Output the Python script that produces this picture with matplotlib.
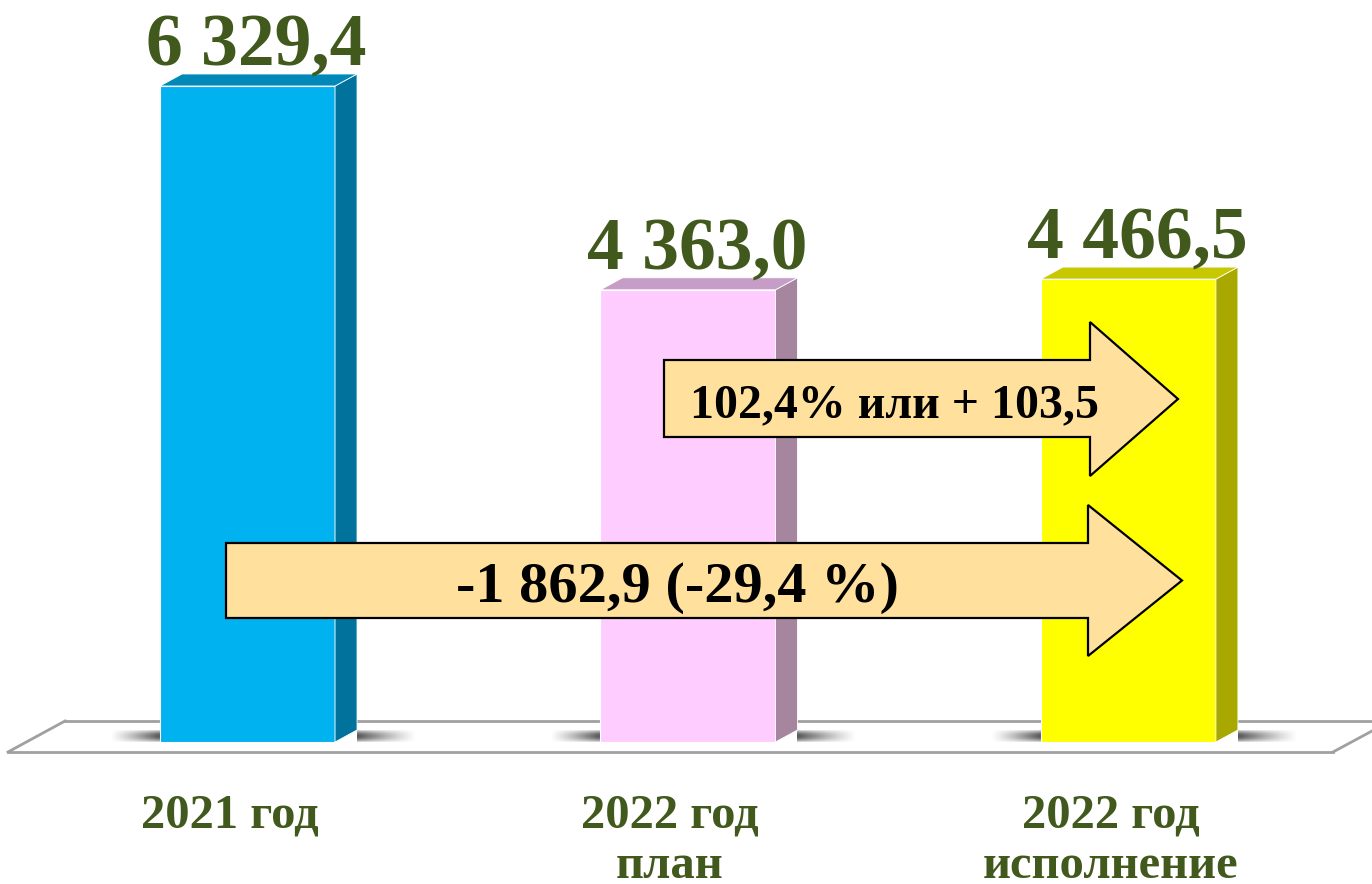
import numpy as np
import matplotlib.pyplot as plt
import matplotlib.transforms as mtransforms
from matplotlib.patches import Polygon

plt.rcParams['font.family'] = ['Liberation Serif', 'DejaVu Serif']

categories = ['2021 год', '2022 год\nплан', '2022 год\nисполнение']
values = [6329.4, 4363.0, 4466.5]
value_labels = ['6 329,4', '4 363,0', '4 466,5']
front_colors = ['#00B2F0', '#FFCCFF', '#FFFF00']
side_colors = ['#00729C', '#A6869F', '#A8A800']
top_colors = ['#0088B8', '#C69DC6', '#C8C800']
arrow_texts = ['102,4% или + 103,5', '-1 862,9 (-29,4 %)']

W, H = 1372, 884
fig = plt.figure(figsize=(W / 100, H / 100), dpi=100)
ax = fig.add_axes([0, 0, 1, 1])
ax.axis('off')
xlim = (-0.562, 2.553)
ylim = (-1370, 7159)

# pixel coords, origin top-left
pix = mtransforms.Affine2D().scale(0.01, -0.01).translate(0, H / 100) + fig.dpi_scale_trans

ux = (xlim[1] - xlim[0]) / W   # data units per pixel
uy = (ylim[1] - ylim[0]) / H
dx, dy = 22 * ux, 12 * uy
w = 175 * ux
pos = np.arange(len(values))
text_green = '#41591C'

# floor
floor_c = '#A0A0A0'
ax.plot([65, 1372], [721, 721], color=floor_c, lw=2, transform=pix, zorder=1)
ax.plot([8, 1333], [752, 752], color=floor_c, lw=2, transform=pix, zorder=1)
ax.plot([8, 65], [752, 721], color=floor_c, lw=2, transform=pix, zorder=1)
ax.plot([1333, 1372], [752, 731], color=floor_c, lw=2, transform=pix, zorder=1)

# soft shadows at the base of the bars
def shade(x0, x1, fade_left):
    ramp = np.linspace(0, 1, 60)
    if not fade_left:
        ramp = ramp[::-1]
    vert = np.sin(np.linspace(0.3, np.pi - 0.3, 12))[:, None]
    img = np.zeros((12, 60, 4))
    img[..., :3] = 0.3
    img[..., 3] = 0.95 * vert * ramp[None, :] ** 1.2
    ax.imshow(img, extent=(x0, x1, 0, dy), aspect='auto', zorder=2,
              interpolation='bilinear')

for p in pos:
    shade(p - w / 2 - 50 * ux, p - w / 2, True)
    shade(p + w / 2 + dx, p + w / 2 + dx + 60 * ux, False)

# bars
ax.bar(pos, values, width=w, color=front_colors, zorder=3,
       edgecolor='white', linewidth=0.8)
for p, v, sc, tc in zip(pos, values, side_colors, top_colors):
    r = p + w / 2
    l = p - w / 2
    ax.add_patch(Polygon([(r, 0), (r + dx, dy), (r + dx, v + dy), (r, v)],
                         closed=True, fc=sc, ec='white', lw=0.6, zorder=3))
    ax.add_patch(Polygon([(l, v), (l + dx, v + dy), (r + dx, v + dy), (r, v)],
                         closed=True, fc=tc, ec='white', lw=0.6, zorder=3))

# value labels
for p, v, t in zip(pos, values, value_labels):
    ax.annotate(t, xy=(p, v), xytext=(9, 21), textcoords='offset pixels',
                ha='center', va='baseline', fontsize=53, fontweight='bold',
                color=text_green, zorder=6)

# category labels
for p, c in zip(pos, categories):
    for i, line in enumerate(c.split('\n')):
        ax.annotate(line, xy=(p, 0), xytext=(-18, -85 - 51 * i),
                    textcoords='offset pixels', ha='center', va='baseline',
                    fontsize=35, fontweight='bold', color=text_green)

# arrows
def block_arrow(left, neck, tip, body_top, body_bot, head_top, head_bot):
    mid = (head_top + head_bot) / 2
    pts = [(left, body_top), (neck, body_top), (neck, head_top), (tip, mid),
           (neck, head_bot), (neck, body_bot), (left, body_bot)]
    ax.add_patch(Polygon(pts, closed=True, fc='#FFE09C', ec='black', lw=1.6,
                         transform=pix, zorder=5))

block_arrow(664, 1090, 1178, 360, 437, 322, 476)
block_arrow(226, 1088, 1182, 543, 618, 505, 656)
ax.text(894, 417, arrow_texts[0], transform=pix, ha='center', va='baseline',
        fontsize=34.5, fontweight='bold', color='black', zorder=6)
ax.text(678, 602, arrow_texts[1], transform=pix, ha='center', va='baseline',
        fontsize=42, fontweight='bold', color='black', zorder=6)

ax.set_xlim(*xlim)
ax.set_ylim(*ylim)
fig.savefig('out.png', dpi=100)
